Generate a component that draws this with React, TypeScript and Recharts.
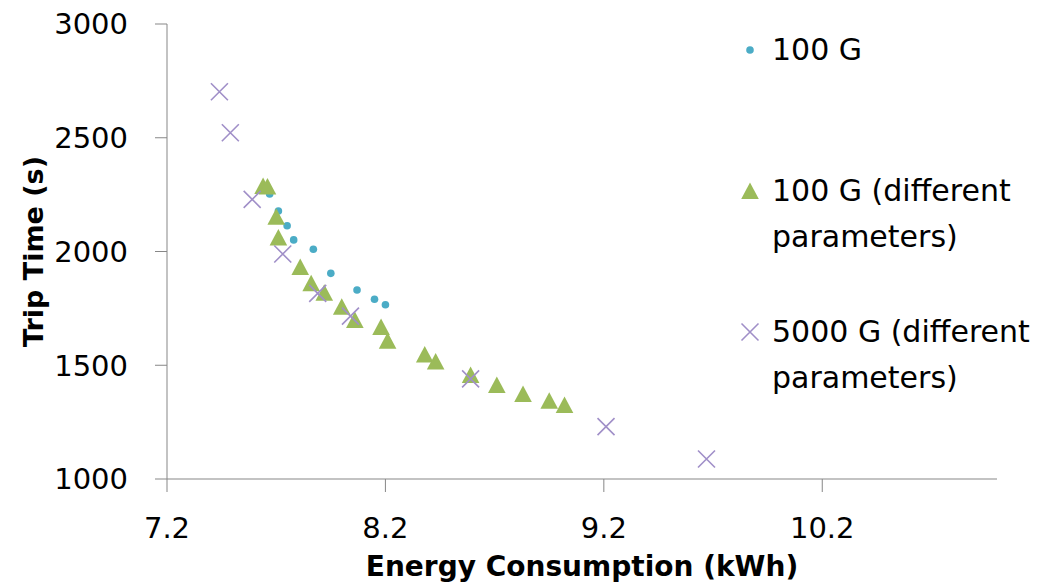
import React from "react";
import { ScatterChart, Scatter, XAxis, YAxis, Legend, Label } from "recharts";

// 100 G
const energy100G = [7.67, 7.71, 7.75, 7.78, 7.87, 7.95, 8.07, 8.15, 8.2];
const time100G = [2253, 2178, 2113, 2051, 2010, 1904, 1831, 1790, 1766];

// 100 G (different parameters)
const energy100GDiff = [
  7.64, 7.66, 7.7, 7.71, 7.81, 7.86, 7.92, 8.0, 8.06, 8.18, 8.21, 8.38, 8.43, 8.59, 8.71, 8.83, 8.95, 9.02,
];
const time100GDiff = [
  2288, 2286, 2153, 2062, 1932, 1860, 1819, 1757, 1699, 1668, 1608, 1547, 1516, 1457, 1413, 1374, 1344, 1325,
];

// 5000 G (different parameters)
const energy5000G = [7.44, 7.49, 7.59, 7.73, 7.89, 8.04, 8.59, 9.21, 9.67];
const time5000G = [2702, 2522, 2229, 1989, 1816, 1716, 1440, 1230, 1088];

const xTicks = [7.2, 8.2, 9.2, 10.2];
const yTicks = [1000, 1500, 2000, 2500, 3000];

const AXIS_COLOR = "#878787";

const DotMarker = ({ cx, cy }: any) => <circle cx={cx} cy={cy} r={3.8} fill="#4bacc6" />;

const TriangleMarker = ({ cx, cy }: any) => (
  <path
    d={`M${cx},${cy - 8.5} L${cx + 8.8},${cy + 8} L${cx - 8.8},${cy + 8} Z`}
    fill="#9bbb59"
  />
);

const CrossMarker = ({ cx, cy }: any) => (
  <path
    d={`M${cx - 8.5},${cy - 8.5} L${cx + 8.5},${cy + 8.5} M${cx + 8.5},${cy - 8.5} L${cx - 8.5},${cy + 8.5}`}
    stroke="#a08fc8"
    strokeWidth={1.6}
    fill="none"
  />
);

const toPoints = (xs: number[], ys: number[]) => xs.map((x, i) => ({ x, y: ys[i] }));

const series = [
  { name: "100 G", data: toPoints(energy100G, time100G), Marker: DotMarker },
  { name: "100 G (different parameters)", data: toPoints(energy100GDiff, time100GDiff), Marker: TriangleMarker },
  { name: "5000 G (different parameters)", data: toPoints(energy5000G, time5000G), Marker: CrossMarker },
];

const renderLegend = () => (
  <div style={{ fontFamily: "DejaVu Sans", fontSize: 30, lineHeight: "46px", color: "#000" }}>
    {series.map((s) => (
      <div key={s.name} style={{ display: "flex", height: 141 }}>
        <svg width={22} height={46} style={{ flex: "none" }}>
          <s.Marker cx={11} cy={23} />
        </svg>
        <div style={{ marginLeft: 11, width: 266 }}>{s.name}</div>
      </div>
    ))}
  </div>
);

const App = () => {
  return (
    <div style={{ position: "absolute", left: 0, top: 0, fontFamily: "DejaVu Sans", background: "#fff" }}>
      <ScatterChart width={1038} height={583} margin={{ top: 24, right: 41, bottom: 0, left: 0 }}>
        <XAxis
          type="number"
          dataKey="x"
          domain={[7.2, 11]}
          ticks={xTicks}
          allowDataOverflow
          height={104}
          stroke={AXIS_COLOR}
          tickSize={13}
          tickMargin={25}
          tick={{ fill: "#000", fontSize: 29 }}
          tickFormatter={(v: number) => v.toFixed(1)}
        >
          <Label
            value="Energy Consumption (kWh)"
            position="insideBottom"
            offset={7}
            style={{ fontWeight: "bold", fontSize: 28, fill: "#000" }}
          />
        </XAxis>
        <YAxis
          type="number"
          dataKey="y"
          domain={[1000, 3000]}
          ticks={yTicks}
          allowDataOverflow
          width={167}
          stroke={AXIS_COLOR}
          tickSize={12}
          tickMargin={27}
          tick={{ fill: "#000", fontSize: 29 }}
        >
          <Label
            value="Trip Time (s)"
            angle={-90}
            position="insideLeft"
            offset={33}
            style={{ fontWeight: "bold", fontSize: 27, fill: "#000", textAnchor: "middle" }}
          />
        </YAxis>
        <Legend
          layout="vertical"
          align="center"
          verticalAlign="middle"
          wrapperStyle={{ left: 739, top: 27, width: 299 }}
          content={renderLegend}
        />
        {series.map((s) => (
          <Scatter
            key={s.name}
            name={s.name}
            data={s.data}
            shape={s.Marker}
            isAnimationActive={false}
          />
        ))}
      </ScatterChart>
    </div>
  );
};

export default App;
